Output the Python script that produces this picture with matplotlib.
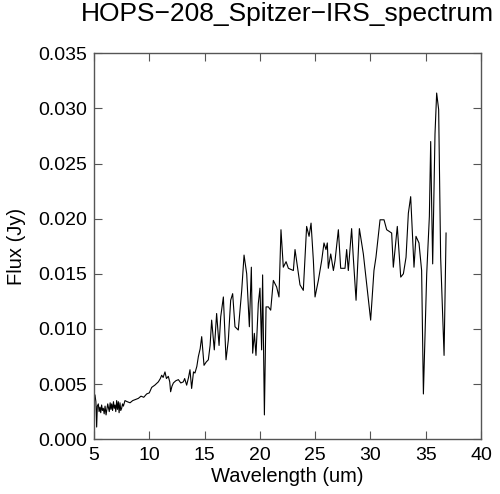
import matplotlib
matplotlib.use("Agg")
import matplotlib.pyplot as plt

# Spitzer IRS spectrum
wavelength = [
    5.09, 5.17, 5.24, 5.30, 5.39, 5.46, 5.54, 5.61, 5.69, 5.76, 5.84, 5.92,
    6.00, 6.09, 6.17, 6.24, 6.30, 6.38, 6.46, 6.53, 6.60, 6.68, 6.76, 6.83,
    6.90, 6.97, 7.05, 7.12, 7.20, 7.27, 7.35, 7.42, 7.50, 7.58, 7.66, 7.80,
    8.00, 8.26, 8.50, 8.75, 9.01, 9.25, 9.50, 9.76, 10.00, 10.22, 10.50,
    10.82, 11.00, 11.12, 11.25, 11.42, 11.55, 11.72, 11.85, 11.93, 12.05,
    12.18, 12.40, 12.63, 12.85, 13.08, 13.20, 13.38, 13.55, 13.68, 13.83,
    14.00, 14.13, 14.30, 14.44, 14.60, 14.74, 14.95, 15.15, 15.34, 15.50,
    15.64, 15.88, 16.09, 16.31, 16.46, 16.70, 16.94, 17.15, 17.36, 17.54,
    17.75, 18.05, 18.36, 18.57, 18.81, 19.05, 19.23, 19.35, 19.50, 19.65,
    19.86, 20.01, 20.16, 20.25, 20.41, 20.56, 20.77, 20.98, 21.22, 21.52,
    21.73, 21.91, 22.12, 22.37, 22.58, 23.03, 23.18, 23.63, 23.93, 24.23,
    24.45, 24.63, 24.84, 24.99, 25.29, 25.59, 25.80, 25.98, 26.10, 26.19,
    26.41, 26.65, 26.80, 27.10, 27.31, 27.70, 27.85, 28.00, 28.30, 28.45,
    28.70, 29.00, 29.36, 29.66, 30.02, 30.32, 30.50, 30.87, 31.23, 31.47,
    31.92, 32.07, 32.43, 32.74, 32.98, 33.22, 33.43, 33.64, 33.94, 34.12,
    34.39, 34.63, 34.79, 35.09, 35.33, 35.45, 35.54, 35.63, 35.84, 35.99,
    36.17, 36.35, 36.66, 36.84,
]
flux = [
    0.0040, 0.0034, 0.0011, 0.0030, 0.0032, 0.0025, 0.0029, 0.0024, 0.0031,
    0.0026, 0.0028, 0.0023, 0.0030, 0.0022, 0.0027, 0.0032, 0.0029, 0.0025,
    0.0033, 0.0027, 0.0032, 0.0026, 0.0034, 0.0028, 0.0031, 0.0025, 0.0035,
    0.0027, 0.0034, 0.0024, 0.0033, 0.0026, 0.0028, 0.0032, 0.0030, 0.0035,
    0.0034, 0.0033, 0.0035, 0.0036, 0.0037, 0.0039, 0.0038, 0.0041, 0.0042,
    0.0047, 0.0049, 0.0052, 0.0055, 0.0058, 0.0056, 0.0061, 0.0055, 0.0057,
    0.0052, 0.0043, 0.0048, 0.0051, 0.0053, 0.0054, 0.0051, 0.0052, 0.0055,
    0.0049, 0.0056, 0.0063, 0.0046, 0.0061, 0.0060, 0.0066, 0.0075, 0.0082,
    0.0093, 0.0067, 0.0070, 0.0072, 0.0085, 0.0108, 0.0081, 0.0114, 0.0085,
    0.0111, 0.0129, 0.0072, 0.0090, 0.0126, 0.0132, 0.0102, 0.0099, 0.0135,
    0.0167, 0.0150, 0.0102, 0.0156, 0.0078, 0.0096, 0.0076, 0.0123, 0.0137,
    0.0081, 0.0149, 0.0022, 0.0120, 0.0120, 0.0117, 0.0144, 0.0138, 0.0129,
    0.0190, 0.0156, 0.0161, 0.0155, 0.0153, 0.0172, 0.0140, 0.0135, 0.0193,
    0.0184, 0.0196, 0.0162, 0.0129, 0.0144, 0.0162, 0.0178, 0.0172, 0.0178,
    0.0155, 0.0168, 0.0153, 0.0162, 0.0190, 0.0155, 0.0155, 0.0172, 0.0153,
    0.0191, 0.0165, 0.0126, 0.0191, 0.0168, 0.0141, 0.0108, 0.0153, 0.0165,
    0.0199, 0.0199, 0.0190, 0.0187, 0.0156, 0.0193, 0.0147, 0.0150, 0.0165,
    0.0205, 0.0220, 0.0156, 0.0184, 0.0178, 0.0153, 0.0041, 0.0150, 0.0202,
    0.0270, 0.0211, 0.0159, 0.0277, 0.0314, 0.0299, 0.0165, 0.0076, 0.0187,
]

x_ticks = [5, 10, 15, 20, 25, 30, 35, 40]
y_ticks = [0.000, 0.005, 0.010, 0.015, 0.020, 0.025, 0.030, 0.035]

plt.rcParams['font.family'] = ['Liberation Sans', 'DejaVu Sans']

fig = plt.figure(figsize=(5.0, 4.94), dpi=100)
ax = fig.add_axes([0.188, 0.111, 0.774, 0.781])

ax.plot(wavelength, flux, color='black', linewidth=0.8)

ax.set_xlim(5, 40)
ax.set_ylim(0, 0.035)
ax.set_xticks(x_ticks)
ax.set_yticks(y_ticks)
ax.set_yticklabels([f"{v:.3f}" for v in y_ticks])

edge = '#555555'
for spine in ax.spines.values():
    spine.set_color(edge)
    spine.set_linewidth(1.0)
ax.tick_params(direction='in', length=6, width=0.8, color=edge,
               top=True, right=True, labelsize=14)
ax.tick_params(axis='y', pad=5)
ax.tick_params(axis='x', pad=6)

ax.set_xlabel("Wavelength (um)", fontsize=14.5, labelpad=2)
ax.set_ylabel("Flux (Jy)", fontsize=14.5, labelpad=9)
fig.text(0.575, 0.996, "HOPS\u2212208_Spitzer\u2212IRS_spectrum",
         ha='center', va='top', fontsize=19)

fig.savefig('out.png', dpi=100)
